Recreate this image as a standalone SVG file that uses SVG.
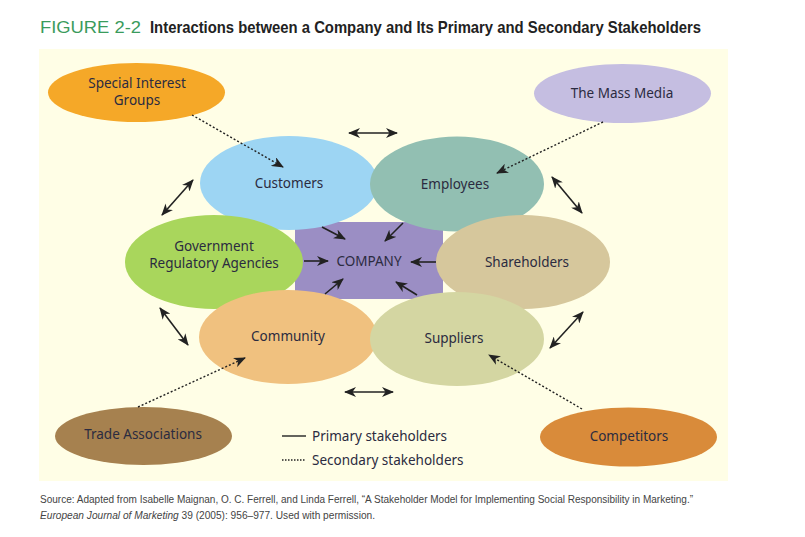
<svg xmlns="http://www.w3.org/2000/svg" width="805" height="537" viewBox="0 0 805 537">
<style>
.lbl{font-family:"Noto Sans","Liberation Sans",sans-serif;font-size:13.5px;fill:#2b2b40;text-anchor:middle}
.pri{stroke:#222;stroke-width:1.6;fill:none}
.sec{stroke:#222;stroke-width:1.4;fill:none;stroke-dasharray:2 2}
.leg{font-family:"Noto Sans","Liberation Sans",sans-serif;font-size:13.5px;fill:#2b2b40}
.src{font-family:"Liberation Sans",sans-serif;font-size:10px;fill:#444}
</style>
<defs>
<marker id="ah" viewBox="0 0 12 10" refX="11" refY="5" markerWidth="12" markerHeight="10" markerUnits="userSpaceOnUse" orient="auto-start-reverse">
<path d="M0,0 L12,5 L0,10 L3.5,5 z" fill="#222"/>
</marker>
</defs>
<rect x="0" y="0" width="805" height="537" fill="#fff"/>
<text x="40" y="33" font-family="Liberation Sans,sans-serif" font-size="17" fill="#3a9b5c" textLength="101" lengthAdjust="spacingAndGlyphs">FIGURE 2-2</text>
<text x="150" y="33" font-family="Liberation Sans,sans-serif" font-size="17" font-weight="bold" fill="#222" textLength="551" lengthAdjust="spacingAndGlyphs">Interactions between a Company and Its Primary and Secondary Stakeholders</text>
<rect x="39" y="49" width="689" height="432" fill="#fffee6"/>

<g id="company"><rect x="295" y="222" width="148" height="77" fill="#9b8ec4"/><text class="lbl" x="369" y="266">COMPANY</text></g>
<g id="customers"><ellipse cx="289" cy="183" rx="89" ry="47" fill="#9dd5f3"/><text class="lbl" x="289" y="188">Customers</text></g>
<g id="employees"><ellipse cx="457" cy="184" rx="87" ry="47.5" fill="#92bfb2"/><text class="lbl" x="455" y="189">Employees</text></g>
<g id="government"><ellipse cx="214" cy="262" rx="89" ry="47" fill="#a9d65c"/><text class="lbl" x="214" y="251">Government</text><text class="lbl" x="214" y="268">Regulatory Agencies</text></g>
<g id="shareholders"><ellipse cx="523" cy="262" rx="87" ry="47" fill="#d6c79c"/><text class="lbl" x="527" y="267">Shareholders</text></g>
<g id="community"><ellipse cx="288" cy="337" rx="89" ry="47" fill="#f0c17f"/><text class="lbl" x="288" y="341">Community</text></g>
<g id="suppliers"><ellipse cx="457" cy="339" rx="87" ry="47" fill="#d4d6a2"/><text class="lbl" x="454" y="343">Suppliers</text></g>
<g id="special-interest"><ellipse cx="136.5" cy="92.5" rx="88.5" ry="29.5" fill="#f5a828"/><text class="lbl" x="137" y="88">Special Interest</text><text class="lbl" x="137" y="105">Groups</text></g>
<g id="mass-media"><ellipse cx="622.5" cy="93.5" rx="88.5" ry="29.5" fill="#c5bee1"/><text class="lbl" x="622" y="98">The Mass Media</text></g>
<g id="trade-associations"><ellipse cx="143.5" cy="436" rx="88.5" ry="29" fill="#a6814f"/><text class="lbl" x="143" y="439">Trade Associations</text></g>
<g id="competitors"><ellipse cx="628.5" cy="437" rx="88.5" ry="29.5" fill="#d98b3a"/><text class="lbl" x="629" y="441">Competitors</text></g>

<g id="connectors">
<line class="pri" x1="349" y1="133" x2="397" y2="133" marker-start="url(#ah)" marker-end="url(#ah)"/>
<line class="pri" x1="193" y1="180" x2="162" y2="215" marker-start="url(#ah)" marker-end="url(#ah)"/>
<line class="pri" x1="552" y1="177" x2="582" y2="213" marker-start="url(#ah)" marker-end="url(#ah)"/>
<line class="pri" x1="160" y1="308" x2="188" y2="345" marker-start="url(#ah)" marker-end="url(#ah)"/>
<line class="pri" x1="345" y1="392" x2="393" y2="392" marker-start="url(#ah)" marker-end="url(#ah)"/>
<line class="pri" x1="550" y1="348" x2="583" y2="312" marker-start="url(#ah)" marker-end="url(#ah)"/>

<line class="pri" x1="322" y1="227" x2="345" y2="239" marker-end="url(#ah)"/>
<line class="pri" x1="403" y1="223" x2="385" y2="241" marker-end="url(#ah)"/>
<line class="pri" x1="304" y1="261" x2="328" y2="261" marker-end="url(#ah)"/>
<line class="pri" x1="436" y1="262" x2="411" y2="262" marker-end="url(#ah)"/>
<line class="pri" x1="325" y1="294" x2="343" y2="279" marker-end="url(#ah)"/>
<line class="pri" x1="417" y1="295" x2="396" y2="282" marker-end="url(#ah)"/>

<line class="sec" x1="192" y1="115" x2="283" y2="167" marker-end="url(#ah)"/>
<line class="sec" x1="603" y1="122" x2="497" y2="173" marker-end="url(#ah)"/>
<line class="sec" x1="138" y1="407" x2="245" y2="358" marker-end="url(#ah)"/>
<line class="sec" x1="582" y1="409" x2="489" y2="355" marker-end="url(#ah)"/>
</g>

<g id="legend">
<line x1="282" y1="436" x2="306" y2="436" stroke="#222" stroke-width="1.4"/>
<text class="leg" x="312" y="441">Primary stakeholders</text>
<line x1="282" y1="460" x2="306" y2="460" stroke="#222" stroke-width="1.4" stroke-dasharray="1.5 1.5"/>
<text class="leg" x="312" y="465">Secondary stakeholders</text>
</g>

<text class="src" x="40" y="503" textLength="653" lengthAdjust="spacingAndGlyphs">Source: Adapted from Isabelle Maignan, O. C. Ferrell, and Linda Ferrell, “A Stakeholder Model for Implementing Social Responsibility in Marketing.”</text>
<text class="src" x="40" y="519" textLength="335" lengthAdjust="spacingAndGlyphs"><tspan font-style="italic">European Journal of Marketing</tspan> 39 (2005): 956–977. Used with permission.</text>
</svg>
